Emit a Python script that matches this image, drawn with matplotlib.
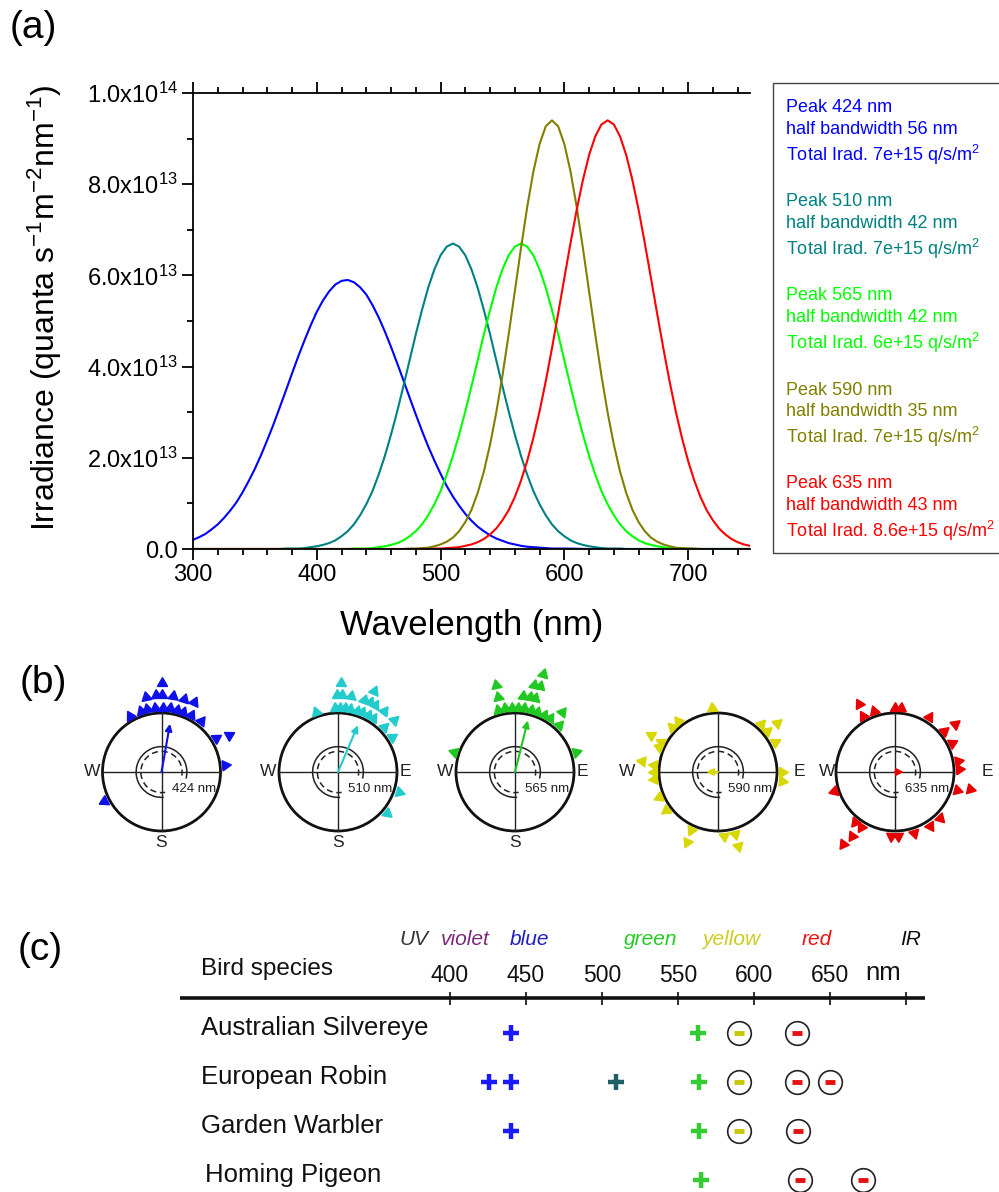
import matplotlib
matplotlib.use("Agg")
import matplotlib.pyplot as plt
from matplotlib.patches import Circle, Arc, Rectangle
from matplotlib.ticker import MultipleLocator, FixedLocator
import numpy as np

plt.rcParams["font.family"] = ["Liberation Sans", "DejaVu Sans"]
plt.rcParams["mathtext.fontset"] = "custom"
plt.rcParams["mathtext.rm"] = "Liberation Sans"
plt.rcParams["mathtext.it"] = "Liberation Sans:italic"

# ---------------- (a) spectra, irradiance in units of 1e13 quanta/s/m2/nm (read every 5 nm)
wl_424 = list(range(300, 595, 5)) + [600, 620, 650, 700, 750]
irr_424 = [0.20, 0.26, 0.33, 0.43, 0.54, 0.68, 0.84, 1.02, 1.24, 1.49, 1.76, 2.06, 2.39, 2.73, 3.10, 3.47,
           3.85, 4.22, 4.57, 4.90, 5.20, 5.45, 5.65, 5.80, 5.88, 5.90, 5.85, 5.74, 5.58, 5.35, 5.08, 4.77,
           4.43, 4.07, 3.70, 3.32, 2.95, 2.59, 2.25, 1.94, 1.65, 1.38, 1.15, 0.95, 0.77, 0.62, 0.49, 0.39,
           0.30, 0.23, 0.18, 0.13, 0.10, 0.07, 0.05, 0.04, 0.03, 0.02, 0.01,
           0.01, 0.0, 0.0, 0.0, 0.0]

wl_510 = [300] + list(range(370, 655, 5)) + [750]
irr_510 = [0, 0, 0.01, 0.01, 0.01, 0.02, 0.04, 0.06, 0.09, 0.13, 0.19, 0.28, 0.39, 0.54, 0.74, 0.98, 1.27,
           1.63, 2.04, 2.51, 3.02, 3.57, 4.14, 4.71, 5.24, 5.73, 6.13, 6.44, 6.63, 6.70, 6.63, 6.44, 6.13,
           5.73, 5.24, 4.71, 4.14, 3.57, 3.02, 2.51, 2.04, 1.63, 1.27, 0.98, 0.74, 0.54, 0.39, 0.28, 0.19,
           0.13, 0.09, 0.06, 0.04, 0.02, 0.01, 0.01, 0.01, 0, 0]

wl_565 = [300] + list(range(425, 710, 5)) + [750]
irr_565 = [0, 0, 0.01, 0.01, 0.01, 0.02, 0.04, 0.06, 0.09, 0.13, 0.19, 0.28, 0.39, 0.54, 0.74, 0.98, 1.27,
           1.63, 2.04, 2.51, 3.02, 3.57, 4.14, 4.71, 5.24, 5.73, 6.13, 6.44, 6.63, 6.70, 6.63, 6.44, 6.13,
           5.73, 5.24, 4.71, 4.14, 3.57, 3.02, 2.51, 2.04, 1.63, 1.27, 0.98, 0.74, 0.54, 0.39, 0.28, 0.19,
           0.13, 0.09, 0.06, 0.04, 0.02, 0.01, 0.01, 0.01, 0, 0]

wl_590 = [300] + list(range(470, 715, 5)) + [750]
irr_590 = [0, 0, 0.01, 0.01, 0.02, 0.03, 0.06, 0.10, 0.16, 0.25, 0.39, 0.59, 0.86, 1.23, 1.70, 2.29, 2.99,
           3.80, 4.70, 5.65, 6.60, 7.50, 8.28, 8.88, 9.27, 9.40, 9.27, 8.88, 8.28, 7.50, 6.60, 5.65, 4.70,
           3.80, 2.99, 2.29, 1.70, 1.23, 0.86, 0.59, 0.39, 0.25, 0.16, 0.10, 0.06, 0.03, 0.02, 0.01, 0.01,
           0, 0]

wl_635 = [300] + list(range(490, 755, 5))
irr_635 = [0, 0, 0.01, 0.01, 0.02, 0.03, 0.04, 0.07, 0.10, 0.15, 0.22, 0.32, 0.45, 0.63, 0.85, 1.14, 1.50,
           1.93, 2.44, 3.02, 3.68, 4.40, 5.16, 5.94, 6.71, 7.44, 8.09, 8.64, 9.05, 9.31, 9.40, 9.31, 9.05,
           8.64, 8.09, 7.44, 6.71, 5.94, 5.16, 4.40, 3.68, 3.02, 2.44, 1.93, 1.50, 1.14, 0.85, 0.63, 0.45,
           0.32, 0.22, 0.15, 0.10, 0.07]

peak_nm = [424, 510, 565, 590, 635]
half_bw = [56, 42, 42, 35, 43]
total_irr = ["7e+15", "7e+15", "6e+15", "7e+15", "8.6e+15"]
spec_colors = ["#0000ff", "#008080", "#00ff00", "#808000", "#ff0000"]

# ---------------- (b) orientation of birds (bearing deg, stack level)
b424_deg = [-29, -19, -13, -6, 1, 8, 14, 20, 27, 38, 58, 84, 243, -12, -4, 0, 9, 17, 25, 61, 0]
b424_lvl = [1, 1, 1, 1, 1, 1, 1, 1, 1, 1, 1, 1, 1, 2, 2, 2, 2, 2, 2, 2, 3]
b510_deg = [-20, -3, 2, 6, 11, 17, 22, 28, 33, 46, 57, 108, 130, -1, 3, 10, 20, 25, 29, 37, 47, 2, 24]
b510_lvl = [1, 1, 1, 1, 1, 1, 1, 1, 1, 1, 1, 1, 1, 2, 2, 2, 2, 2, 2, 2, 2, 3, 3]
b565_deg = [-72, -15, -9, -3, 3, 8, 14, 20, 27, 33, 43, 72, -13, 6, 11, 15, 38, -12, 12, 16, 16]
b565_lvl = [1, 1, 1, 1, 1, 1, 1, 1, 1, 1, 1, 1, 2, 2, 2, 2, 2, 3, 3, 3, 4]
b590_deg = [-5, -38, -46, -62, -67, -84, -90, -96, -113, -126, -155, 175, 165, 42, 50, 62, 90, 98,
            -61, -82, -156, 165, 50]
b590_lvl = [1, 1, 1, 1, 1, 1, 1, 1, 1, 1, 1, 1, 1, 1, 1, 1, 1, 1, 2, 2, 2, 2, 2]
b635_deg = [-30, -19, 0, 5, 32, 50, 63, 80, 87, 106, 136, 147, 163, 177, -176, -107, -141, -148,
            -28, 51, 103, -146, -144]
b635_lvl = [1, 1, 1, 1, 1, 1, 1, 1, 1, 1, 1, 1, 1, 1, 1, 1, 1, 1, 2, 2, 2, 2, 3]
mean_dir = [10, 23, 14, 270, 90]
mean_len = [0.83, 0.86, 0.90, 0.20, 0.15]
orient_colors = ["#1010e8", "#22cccc", "#22c822", "#d8d800", "#e80000"]

# ---------------- (c) table
species = ["Australian Silvereye", "European Robin", "Garden Warbler", "Homing Pigeon"]
mark_row = [0, 0, 0, 0, 1, 1, 1, 1, 1, 1, 1, 2, 2, 2, 2, 3, 3, 3]
mark_wl = [440, 563, 590, 628, 426, 440, 509, 564, 590, 628, 650, 440, 564, 590, 629, 565, 630, 672]
mark_sign = ["+", "+", "-", "-", "+", "+", "+", "+", "-", "-", "-", "+", "+", "-", "-", "+", "-", "-"]
mark_color = ["#1a1aff", "#33cc33", "#c8c800", "#e81010", "#1a1aff", "#1a1aff", "#1d5f66", "#33cc33",
              "#c8c800", "#e81010", "#e81010", "#1a1aff", "#33cc33", "#c8c800", "#e81010", "#33cc33",
              "#e81010", "#e81010"]
scale_ticks = [400, 450, 500, 550, 600, 650, 700]
band_names = ["UV", "violet", "blue", "green", "yellow", "red", "IR"]
band_pos = [376, 410, 452, 532, 585, 641, 703]
band_colors = ["#333333", "#7a2a7a", "#2020c0", "#22cc22", "#cccc22", "#ee1111", "#111111"]

W, H = 999, 1192
fig = plt.figure(figsize=(W / 100, H / 100), dpi=100)


def px_axes(x0, y0, x1, y1):
    return fig.add_axes([x0 / W, 1 - y1 / H, (x1 - x0) / W, (y1 - y0) / H])


# ======== panel (a)
ax = px_axes(193, 93, 750, 549)
for wl, irr, c in zip([wl_424, wl_510, wl_565, wl_590, wl_635],
                      [irr_424, irr_510, irr_565, irr_590, irr_635], spec_colors):
    ax.plot(wl, np.array(irr) * 1e13, color=c, lw=1.5)
ax.set_xlim(300, 750)
ax.set_ylim(0, 1e14)
ax.xaxis.set_major_locator(FixedLocator([300, 400, 500, 600, 700]))
ax.xaxis.set_minor_locator(MultipleLocator(20))
ax.set_yticks([0, 2e13, 4e13, 6e13, 8e13, 1e14])
ax.set_yticklabels(["0.0", r"2.0x10$^{13}$", r"4.0x10$^{13}$", r"6.0x10$^{13}$",
                    r"8.0x10$^{13}$", r"1.0x10$^{14}$"])
ax.yaxis.set_minor_locator(MultipleLocator(1e13))
ax.tick_params(which="both", direction="out", top=True, right=False, width=1.3, labelsize=17, pad=3)
ax.tick_params(which="major", length=8)
ax.tick_params(which="minor", length=4.5)
ax.spines["right"].set_visible(False)
for s in ["left", "bottom", "top"]:
    ax.spines[s].set_linewidth(1.3)

fig.text(472 / W, 1 - 625 / H, "Wavelength (nm)", ha="center", va="center", fontsize=25)
fig.text(45 / W, 1 - 308 / H, "Irradiance (quanta s$^{\\mathrm{-}1}$m$^{\\mathrm{-}2}$nm$^{\\mathrm{-}1}$)",
         ha="center", va="center", rotation=90, fontsize=23)

fig.patches.append(Rectangle((773 / W, 1 - 553 / H), 240 / W, 470 / H, transform=fig.transFigure,
                             fill=False, ec="#444444", lw=1))
for i in range(5):
    y0 = 108 + 94 * i
    c = spec_colors[i]
    fig.text(786 / W, 1 - y0 / H, "Peak %d nm" % peak_nm[i], color=c, fontsize=13, va="center")
    fig.text(786 / W, 1 - (y0 + 22) / H, "half bandwidth %d nm" % half_bw[i], color=c, fontsize=13,
             va="center")
    fig.text(786 / W, 1 - (y0 + 47) / H, "Total Irad. %s q/s/m$^2$" % total_irr[i], color=c, fontsize=13,
             va="center")

fig.text(10 / W, 1 - 28 / H, "(a)", fontsize=28, va="center")
fig.text(20 / W, 1 - 683 / H, "(b)", fontsize=28, va="center")
fig.text(18 / W, 1 - 950 / H, "(c)", fontsize=28, va="center")

# ======== panel (b)
centers = [161.5, 338, 515, 718, 895]
cy, R = 772, 59
half = 115
labels_dirs = [
    [("W", -1.18, 0), ("S", 0, -1.2)],
    [("W", -1.18, 0), ("E", 1.15, 0), ("S", 0, -1.2)],
    [("W", -1.18, 0), ("E", 1.15, 0), ("S", 0, -1.2)],
    [("W", -1.54, 0), ("E", 1.38, 0)],
    [("W", -1.15, 0), ("E", 1.57, 0)],
]
all_deg = [b424_deg, b510_deg, b565_deg, b590_deg, b635_deg]
all_lvl = [b424_lvl, b510_lvl, b565_lvl, b590_lvl, b635_lvl]
for k, cx in enumerate(centers):
    axb = px_axes(cx - half, cy - half, cx + half, cy + half)
    axb.set_xlim(-half / R, half / R)
    axb.set_ylim(-half / R, half / R)
    axb.axis("off")
    axb.patch.set_alpha(0)
    col = orient_colors[k]
    axb.add_patch(Circle((0, 0), 1, fill=False, lw=2, ec="#111111"))
    axb.plot([-1, 1], [0, 0], color="#222222", lw=1)
    axb.plot([0, 0], [-1, 1], color="#222222", lw=1)
    axb.add_patch(Arc((0, 0), 0.86, 0.86, theta1=-15, theta2=275, lw=1.1, color="#222222"))
    axb.add_patch(Arc((0, 0), 0.70, 0.70, theta1=-10, theta2=280, lw=1.1, color="#222222",
                      linestyle=(0, (4, 2.5))))
    for d, lv in zip(all_deg[k], all_lvl[k]):
        rr = 1.09 + 0.21 * (lv - 1)
        t = np.radians(d)
        axb.plot(rr * np.sin(t), rr * np.cos(t), marker=(3, 0, -d), ms=8.5, color=col, ls="none",
                 clip_on=False)
    t = np.radians(mean_dir[k])
    axb.annotate("", xy=(mean_len[k] * np.sin(t), mean_len[k] * np.cos(t)), xytext=(0, 0),
                 arrowprops=dict(arrowstyle="-|>", color=col, lw=1.5, mutation_scale=10,
                                 shrinkA=0, shrinkB=0))
    axb.text(0.17, -0.28, "%d nm" % peak_nm[k], fontsize=9.5, ha="left", va="center", color="#222222")
    for lab, x, y in labels_dirs[k]:
        axb.text(x, y, lab, fontsize=12.5, ha="center", va="center", color="#222222")

# ======== panel (c)
axc = px_axes(0, 925, 999, 1192)
axc.axis("off")
axc.patch.set_alpha(0)
axc.set_xlim(104.0, 761.2)
axc.set_ylim(3.245, -2.204)
yline = -0.714
axc.plot([222.4, 712.5], [yline, yline], color="#111111", lw=2.6, solid_capstyle="butt")
axc.vlines(scale_ticks, yline - 0.12, yline + 0.15, color="#111111", lw=1.2)
for t in scale_ticks[:-1]:
    axc.text(t, -1.18, str(t), fontsize=16.5, ha="center", va="center", color="#111111")
axc.text(685, -1.22, "nm", fontsize=18.5, ha="center", va="center", color="#111111")
for name, x, c in zip(band_names, band_pos, band_colors):
    axc.text(x, -1.9, name, fontsize=15, style="italic", ha="center", va="center", color=c)
axc.text(236, -1.3, "Bird species", fontsize=17.5, ha="left", va="center", color="#111111")
for i, sp in enumerate(species):
    axc.text(236 if i < 3 else 239, i - 0.1, sp, fontsize=18.5, ha="left", va="center", color="#111111")
for r, w, s, c in zip(mark_row, mark_wl, mark_sign, mark_color):
    if s == "+":
        axc.plot(w, r, marker="+", ms=11, mew=3.2, color=c, ls="none")
    else:
        axc.plot(w, r, marker="o", ms=17, mfc="none", mec="#222222", mew=1.2, ls="none")
        axc.plot(w, r, marker="_", ms=7, mew=3.5, color=c, ls="none")

fig.savefig("out.png", dpi=100)
